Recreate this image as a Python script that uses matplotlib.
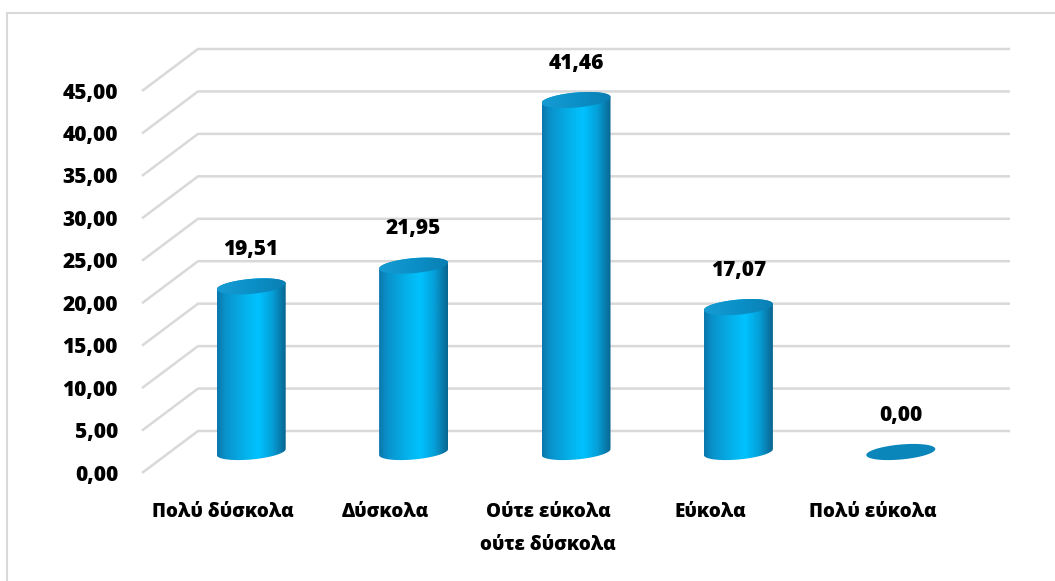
import numpy as np
import matplotlib
matplotlib.use("Agg")
import matplotlib.pyplot as plt
from matplotlib.patches import Polygon
from matplotlib.colors import LinearSegmentedColormap
from matplotlib.lines import Line2D

plt.rcParams['font.family'] = ['Open Sans', 'DejaVu Sans']

# Δεδομένα
categories = ["Πολύ δύσκολα", "Δύσκολα", "Ούτε εύκολα\nούτε δύσκολα", "Εύκολα", "Πολύ εύκολα"]
values = [19.51, 21.95, 41.46, 17.07, 0.00]
yticks = [0, 5, 10, 15, 20, 25, 30, 35, 40, 45]

# Γεωμετρία σε pixels (1055x581, dpi 100)
W, H = 1055, 581
X0, X1 = 198, 1010        # πίσω επίπεδο, οριζόντια
YT, YB = 49, 431          # πίσω επίπεδο, 45 και 0
n = len(categories)
ymax = 45
ppx = (X1 - X0) / n
ppy = (YB - YT) / ymax
DX = -56 / ppx            # μετατόπιση βάθους (μπροστινό επίπεδο)
DY = -42 / ppy

FW = 800
FS = 15

fig = plt.figure(figsize=(W / 100, H / 100), dpi=100)
ax = fig.add_axes([0, 0, 1, 1])
ax.set_axis_off()

grid_c = "#d9d9d9"

# πλαίσιο γραφήματος
fig.add_artist(Line2D([7 / W, 7 / W], [0, 1 - 13 / H], color=grid_c, lw=1.5))
fig.add_artist(Line2D([7 / W, 1], [1 - 13 / H, 1 - 13 / H], color=grid_c, lw=1.5))

# γραμμές πλέγματος: διαγώνια στο πλάι + οριζόντια στο πίσω τοίχωμα
for v in yticks:
    ax.plot([DX, 0, n], [v + DY, v, v], color=grid_c, lw=1.8, zorder=1,
            solid_capstyle='butt')
    ax.text(DX - 24 / ppx, v + DY - 2 / ppy, f"{v:.2f}".replace('.', ','),
            ha='right', va='center', fontsize=FS, fontweight=FW)

body_cmap = LinearSegmentedColormap.from_list("body", [
    (0.0, "#0a77ab"), (0.12, "#0a92cb"), (0.45, "#04b6ef"),
    (0.6, "#00c2ff"), (0.8, "#05a0d9"), (1.0, "#0a6590")])
cap_cmap = LinearSegmentedColormap.from_list("cap", [
    (0.0, "#169bd3"), (0.5, "#0b90c8"), (1.0, "#0a7fb3")])

rx = 34.5 / ppx
ry = 7.5 / ppy
sh = 3.0 / ppy
t = np.linspace(0, 2 * np.pi, 120)
grad = np.linspace(0, 1, 256).reshape(1, -1)


def cylinder(xc, y0, y1):
    # πάνω έλλειψη
    cap = np.column_stack([xc + rx * np.cos(t), y1 + ry * np.sin(t) + sh * np.cos(t)])
    if y1 > y0:
        tb = np.linspace(np.pi, 2 * np.pi, 60)
        tt = np.linspace(0, np.pi, 60)
        low = np.column_stack([xc + rx * np.cos(tb), y0 + ry * np.sin(tb) + sh * np.cos(tb)])
        up = np.column_stack([xc + rx * np.cos(tt), y1 + ry * np.sin(tt) + sh * np.cos(tt)])
        body = Polygon(np.vstack([low, up]), closed=True, facecolor='none',
                       edgecolor='none', transform=ax.transData)
        ax.add_patch(body)
        im = ax.imshow(grad, cmap=body_cmap, aspect='auto', zorder=2,
                       extent=[xc - rx, xc + rx, y0 - ry - sh - 1, y1 + ry + sh],
                       interpolation='bilinear')
        im.set_clip_path(body)
        cp = Polygon(cap, closed=True, facecolor='none', edgecolor='none')
        ax.add_patch(cp)
        im2 = ax.imshow(grad, cmap=cap_cmap, aspect='auto', zorder=3,
                        extent=[xc - rx, xc + rx, y1 - ry - sh, y1 + ry + sh],
                        interpolation='bilinear')
        im2.set_clip_path(cp)
    else:
        ax.add_patch(Polygon(cap, closed=True, facecolor="#0a86bb",
                             edgecolor='none', zorder=3))


for i, (cat, v) in enumerate(zip(categories, values)):
    xc = i + 0.5 + 0.5 * DX
    y0 = 0.5 * DY
    cylinder(xc, y0, v + y0)
    ax.text(xc, v + y0 + 37 / ppy, f"{v:.2f}".replace('.', ','),
            ha='center', va='center', fontsize=FS, fontweight=FW, zorder=5)
    ax.text(i + 0.5 + DX, DY - 29 / ppy, cat, ha='center', va='top',
            fontsize=13.5, fontweight=FW, linespacing=1.85)

ax.set_xlim(-X0 / ppx, n + (W - X1) / ppx)
ax.set_ylim(-(H - YB) / ppy, ymax + YT / ppy)

fig.savefig("out.png", dpi=100)
